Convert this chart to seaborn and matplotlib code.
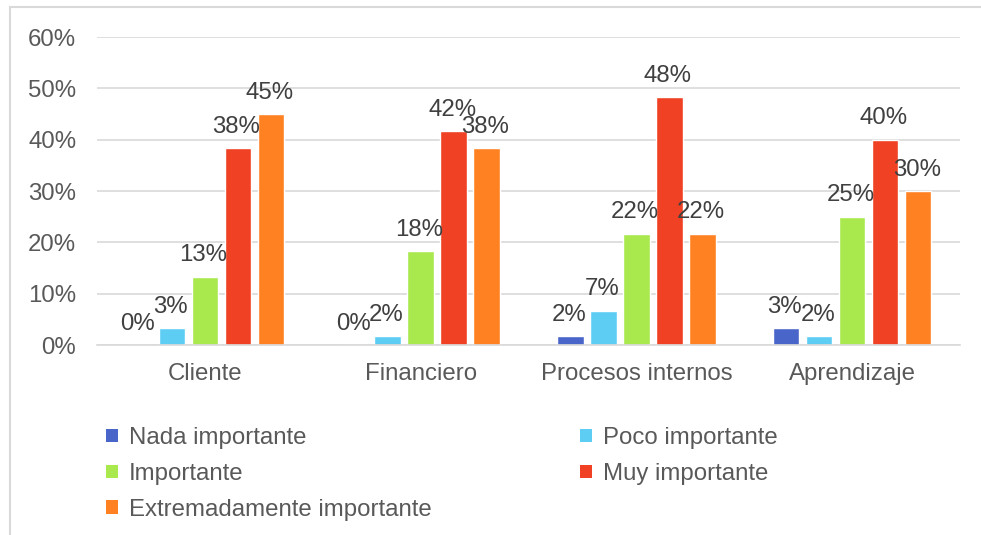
import matplotlib
matplotlib.use("Agg")
import matplotlib.pyplot as plt
import seaborn as sns
import pandas as pd
from matplotlib.patches import Rectangle, Patch

categories = ["Cliente", "Financiero", "Procesos internos", "Aprendizaje"]
levels = ["Nada importante", "Poco importante", "Importante", "Muy importante",
          "Extremadamente importante"]
nada = [0.0, 0.0, 1.7, 3.3]
poco = [3.3, 1.7, 6.7, 1.7]
importante = [13.3, 18.3, 21.7, 25.0]
muy = [38.3, 41.7, 48.3, 40.0]
extrem = [45.0, 38.3, 21.7, 30.0]
yticks = [0, 10, 20, 30, 40, 50, 60]
colors = ["#4A65C9", "#5DCDF4", "#A9E94E", "#F04124", "#FF8122"]

rows = []
for lvl, vals in zip(levels, [nada, poco, importante, muy, extrem]):
    for c, v in zip(categories, vals):
        rows.append({"Categoria": c, "Nivel": lvl, "Valor": v})
df = pd.DataFrame(rows)

sns.set_theme(style="white")
plt.rcParams["font.family"] = ["Liberation Sans", "DejaVu Sans"]
txt = "#595959"
fs = 17.3

fig = plt.figure(figsize=(9.81, 5.35), dpi=100)
ax = fig.add_axes([97/981, 1-345/535, (960-97)/981, (345-37)/535])

sns.barplot(data=df, x="Categoria", y="Valor", hue="Nivel", order=categories,
            hue_order=levels, palette=colors, width=0.765, gap=0.2,
            saturation=1, ax=ax, legend=False, errorbar=None)

ax.set_ylim(0, 60)
ax.set_xlim(-0.5, 3.5)
ax.set_yticks(yticks)
ax.set_yticklabels([f"{t}%" for t in yticks], color=txt, fontsize=fs)
ax.set_xticks(range(len(categories)))
ax.set_xticklabels(categories, color=txt, fontsize=fs)
ax.tick_params(axis="both", length=0)
ax.tick_params(axis="x", pad=13)
ax.tick_params(axis="y", pad=15)
ax.set_xlabel("")
ax.set_ylabel("")
ax.grid(axis="y", color="#d9d9d9", linewidth=1.2)
ax.set_axisbelow(True)
for s in ["left", "right", "top"]:
    ax.spines[s].set_visible(False)
ax.spines["bottom"].set_color("#d9d9d9")
ax.spines["bottom"].set_linewidth(1.2)

for cont in ax.containers:
    for bar in cont:
        h = bar.get_height()
        ax.annotate(f"{h:.0f}%", (bar.get_x() + bar.get_width()/2, h),
                    xytext=(-1, 7.5), textcoords="offset points",
                    ha="center", va="bottom", fontsize=fs, color="#404040")

handles = [Patch(facecolor=c, edgecolor="none") for c in colors]
order = [0, 2, 4, 1, 3]
leg = fig.legend([handles[i] for i in order], [levels[i] for i in order],
                 ncol=2, loc="upper left",
                 bbox_to_anchor=(106/981, 1-427/535, (778-106)/981, 0.0),
                 mode="expand", frameon=False, fontsize=fs,
                 handlelength=0.5, handleheight=0.5, handletextpad=0.45,
                 labelspacing=0.58, borderaxespad=0, borderpad=0)
for t in leg.get_texts():
    t.set_color(txt)

fig.patches.append(Rectangle((10/981, -0.1), 1.2, 1-7/535+0.1,
                             transform=fig.transFigure, fill=False,
                             edgecolor="#d9d9d9", linewidth=1.5))

fig.savefig("out.png", dpi=100)
